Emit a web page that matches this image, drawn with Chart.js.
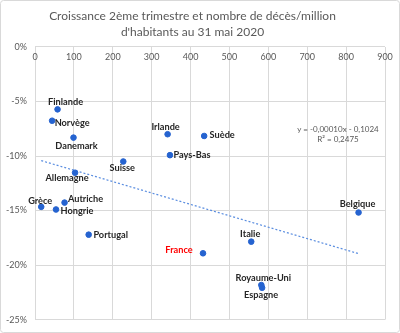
<!DOCTYPE html>
<html>
<head>
<meta charset="utf-8">
<script src="https://cdn.jsdelivr.net/npm/chart.js@4"></script>
<style>
  html, body { margin: 0; padding: 0; background: #fff; }
  canvas { display: block; }
</style>
</head>
<body>
<canvas id="scatterCanvas" width="400" height="333"></canvas>
<script>
// Pays et valeurs
const countries = ['Finlande', 'Norvège', 'Danemark', 'Irlande', 'Pays-Bas', 'Suisse', 'Allemagne', 'Suède',
    'Grèce', 'Autriche', 'Hongrie', 'Portugal', 'France', 'Italie', 'Royaume-Uni', 'Espagne', 'Belgique'];
const deathsPerMillion = [58, 44, 99, 341, 347, 227, 103, 435, 16, 76, 54, 138, 432, 556, 582, 584, 832];
const growthQ2 = [-5.72, -6.76, -8.31, -8.0, -9.92, -10.5, -11.53, -8.16, -14.66, -14.27, -14.9, -17.21,
    -18.92, -17.85, -21.83, -22.08, -15.18];
const xTicks = [0, 100, 200, 300, 400, 500, 600, 700, 800, 900];
const yTicks = [0, -5, -10, -15, -20, -25];
const equationText = ['y = -0,00010x - 0,1024', 'R² = 0,2475'];

// label offsets (px) relative to each point, same order as countries
const labelOffsets = [[8, -7], [20, 2], [3, 8], [-2, -7], [22, 0], [-1, 7], [-8, 5], [18, -1],
    [-1, -6], [21, -4], [21, 2], [22, 0], [-24, -3], [-1, -8], [2, -7], [-1, 7], [-1, -8]];

// least squares trend line
const n = deathsPerMillion.length;
const mx = deathsPerMillion.reduce((a, b) => a + b, 0) / n;
const my = growthQ2.reduce((a, b) => a + b, 0) / n;
let sxy = 0, sxx = 0;
for (let i = 0; i < n; i++) {
    sxy += (deathsPerMillion[i] - mx) * (growthQ2[i] - my);
    sxx += (deathsPerMillion[i] - mx) ** 2;
}
const slope = sxy / sxx;
const intercept = my - slope * mx;
const xMin = Math.min(...deathsPerMillion);
const xMax = Math.max(...deathsPerMillion);

const pointData = deathsPerMillion.map((x, i) => ({ x: x, y: growthQ2[i] }));
const trendData = [xMin, xMax].map(x => ({ x: x, y: slope * x + intercept }));

const FONT = 'Lato, "Liberation Sans", sans-serif';
const GRID = '#d9d9d9';
const TEXT = '#595959';

const frame = {
    id: 'frame',
    beforeDraw(chart) {
        const c = chart.ctx;
        c.save();
        c.fillStyle = '#fff';
        c.fillRect(0, 0, chart.width, chart.height);
        c.strokeStyle = GRID;
        c.lineWidth = 1;
        c.beginPath();
        c.roundRect(0.5, 0.5, chart.width - 1, chart.height - 1, 3);
        c.stroke();
        c.restore();
    }
};

const extraText = {
    id: 'extraText',
    afterDatasetsDraw(chart) {
        const c = chart.ctx;
        const xs = chart.scales.x, ys = chart.scales.y;
        c.save();
        // x tick labels sit inside the plot, under the top axis
        c.font = '9px ' + FONT;
        c.fillStyle = TEXT;
        c.textAlign = 'center';
        c.textBaseline = 'middle';
        xTicks.forEach(v => c.fillText(String(v), xs.getPixelForValue(v), chart.chartArea.top + 10.5));

        // equation of the trend line
        c.font = '8px ' + FONT;
        c.fillText(equationText[0], xs.getPixelForValue(779), ys.getPixelForValue(-7.6));
        c.fillText(equationText[1], xs.getPixelForValue(779), ys.getPixelForValue(-8.5));

        // country labels
        const meta = chart.getDatasetMeta(0);
        c.font = 'bold 9.2px ' + FONT;
        meta.data.forEach((pt, i) => {
            c.fillStyle = countries[i] === 'France' ? '#ff0000' : '#262626';
            c.fillText(countries[i], pt.x + labelOffsets[i][0], pt.y + labelOffsets[i][1]);
        });
        c.restore();
    }
};

const scatterChart = new Chart(document.getElementById('scatterCanvas').getContext('2d'), {
    type: 'scatter',
    data: {
        datasets: [{
            label: 'Pays',
            data: pointData,
            backgroundColor: '#2563d0',
            borderColor: '#2563d0',
            pointRadius: 2.8,
            pointHoverRadius: 2.8
        }, {
            type: 'line',
            label: 'Tendance',
            data: trendData,
            borderColor: '#5b8ee0',
            borderWidth: 1.2,
            borderDash: [2, 2],
            pointRadius: 0,
            fill: false
        }]
    },
    options: {
        responsive: false,
        animation: false,
        layout: { padding: { left: 0, right: 15, top: 0, bottom: 12 } },
        plugins: {
            legend: { display: false },
            tooltip: { enabled: false },
            title: {
                display: true,
                text: ['Croissance 2ème trimestre et nombre de décès/million', 'd\'habitants au 31 mai 2020'],
                color: TEXT,
                font: { family: FONT, size: 12, weight: 'normal', lineHeight: 1.333 },
                padding: { top: 8, bottom: 7 }
            }
        },
        scales: {
            x: {
                type: 'linear',
                position: 'top',
                min: 0,
                max: 900,
                ticks: { display: false, stepSize: 100 },
                grid: { color: GRID, drawTicks: false },
                border: { display: false },
                afterFit: s => { s.height = 0; }
            },
            y: {
                type: 'linear',
                min: -25,
                max: 0,
                afterBuildTicks: s => { s.ticks = yTicks.map(v => ({ value: v })); },
                ticks: {
                    color: TEXT,
                    font: { family: FONT, size: 9 },
                    padding: 8,
                    callback: v => v + '%'
                },
                grid: { color: GRID, drawTicks: false },
                border: { display: false },
                afterFit: s => { s.width = 35; }
            }
        }
    },
    plugins: [frame, extraText]
});
</script>
</body>
</html>
